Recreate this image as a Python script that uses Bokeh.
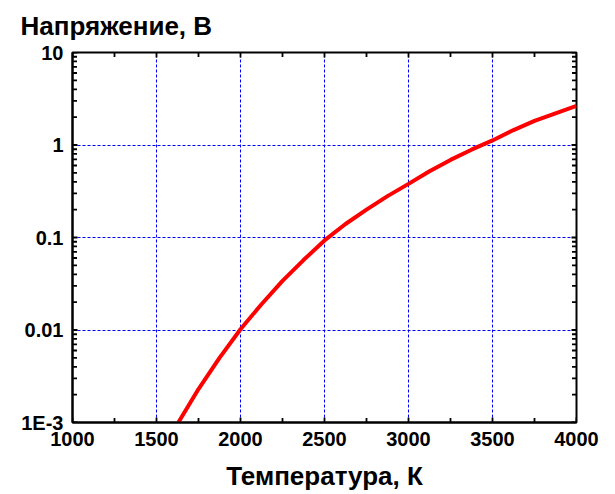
import math
from bokeh.plotting import figure
from bokeh.models import Range1d, FixedTicker, CustomJSTickFormatter
from bokeh.embed import file_html
from bokeh.resources import INLINE

# Data
temperature_k = [1630, 1750, 1875, 2000, 2125, 2250, 2375, 2500, 2625, 2750, 2875,
                 3000, 3125, 3250, 3375, 3500, 3625, 3750, 3875, 4000]
voltage_v = [0.001, 0.0023, 0.0050, 0.0102, 0.019, 0.034, 0.057, 0.093, 0.14, 0.20, 0.28,
             0.38, 0.52, 0.69, 0.89, 1.12, 1.45, 1.82, 2.2, 2.65]

X_MIN, X_MAX = 1000, 4000
Y_MIN, Y_MAX = 0.001, 10
x_ticks = [1000, 1500, 2000, 2500, 3000, 3500, 4000]
x_minor = [1250, 1750, 2250, 2750, 3250, 3750]
y_ticks = [0.001, 0.01, 0.1, 1, 10]
y_tick_labels = ["1E-3", "0.01", "0.1", "1", "10"]
y_minor = [k * 10.0 ** e for e in range(-3, 1) for k in range(2, 10)]
y_title = "Напряжение, В"
x_title = "Температура, К"

FONT = "Liberation Sans"

p = figure(width=615, height=494, output_backend="svg", toolbar_location=None,
           x_range=Range1d(X_MIN, X_MAX), y_range=Range1d(Y_MIN, Y_MAX), y_axis_type="log",
           min_border_left=72, min_border_right=39, min_border_top=52, min_border_bottom=72,
           title=y_title)

p.title.text_font = FONT
p.title.text_font_size = "26px"
p.title.text_font_style = "bold"
p.title.text_color = "black"
p.title.align = "left"
p.title.vertical_align = "top"
p.title.offset = -52
p.title.standoff = 19

p.outline_line_color = "black"
p.outline_line_width = 2
p.background_fill_color = "white"
p.border_fill_color = "white"

xt = FixedTicker(ticks=x_ticks, minor_ticks=x_minor)
yt = FixedTicker(ticks=y_ticks, minor_ticks=y_minor)

ylab_fmt = CustomJSTickFormatter(args=dict(vals=y_ticks, labs=y_tick_labels), code="""
for (let i = 0; i < vals.length; i++) {
  if (Math.abs(Math.log10(tick) - Math.log10(vals[i])) < 1e-6) return labs[i];
}
return '';
""")

def style_axis(ax):
    ax.axis_line_color = "black"
    ax.axis_line_width = 2
    ax.major_tick_in = 0
    ax.major_tick_out = 0
    ax.minor_tick_in = 0
    ax.minor_tick_out = 0
    ax.major_label_text_font = FONT
    ax.major_label_text_font_size = "20px"
    ax.major_label_text_font_style = "bold"
    ax.major_label_text_color = "black"
    ax.axis_label_text_font = FONT
    ax.axis_label_text_font_style = "bold"
    ax.axis_label_text_color = "black"

xa = p.xaxis[0]
xa.ticker = xt
style_axis(xa)
xa.major_label_standoff = 9
xa.axis_label = x_title
xa.axis_label_text_font_size = "26px"
xa.axis_label_standoff = 12

ya = p.yaxis[0]
ya.ticker = yt
ya.formatter = ylab_fmt
style_axis(ya)
ya.major_label_standoff = 9

p.xgrid.ticker = xt
p.ygrid.ticker = yt
for g in (p.xgrid[0], p.ygrid[0]):
    g.grid_line_color = "#0000ff"
    g.grid_line_width = 1
    g.grid_line_dash = "3 2"

p.line(temperature_k, voltage_v, line_color="#ff0000", line_width=4)

# inward tick marks on all four sides (half of each dash is clipped by the frame)
for xs, sz in ((x_ticks, 10), (x_minor, 9)):
    for yv in (Y_MIN, Y_MAX):
        p.scatter(x=xs, y=[yv] * len(xs), marker="dash", size=sz, angle=math.pi / 2,
                  line_color="black", line_width=1.8)
for ys, sz in ((y_ticks, 10), (y_minor, 9)):
    for xv in (X_MIN, X_MAX):
        p.scatter(x=[xv] * len(ys), y=ys, marker="dash", size=sz,
                  line_color="black", line_width=1.8)

open("out.html", "w").write(file_html(p, INLINE))
